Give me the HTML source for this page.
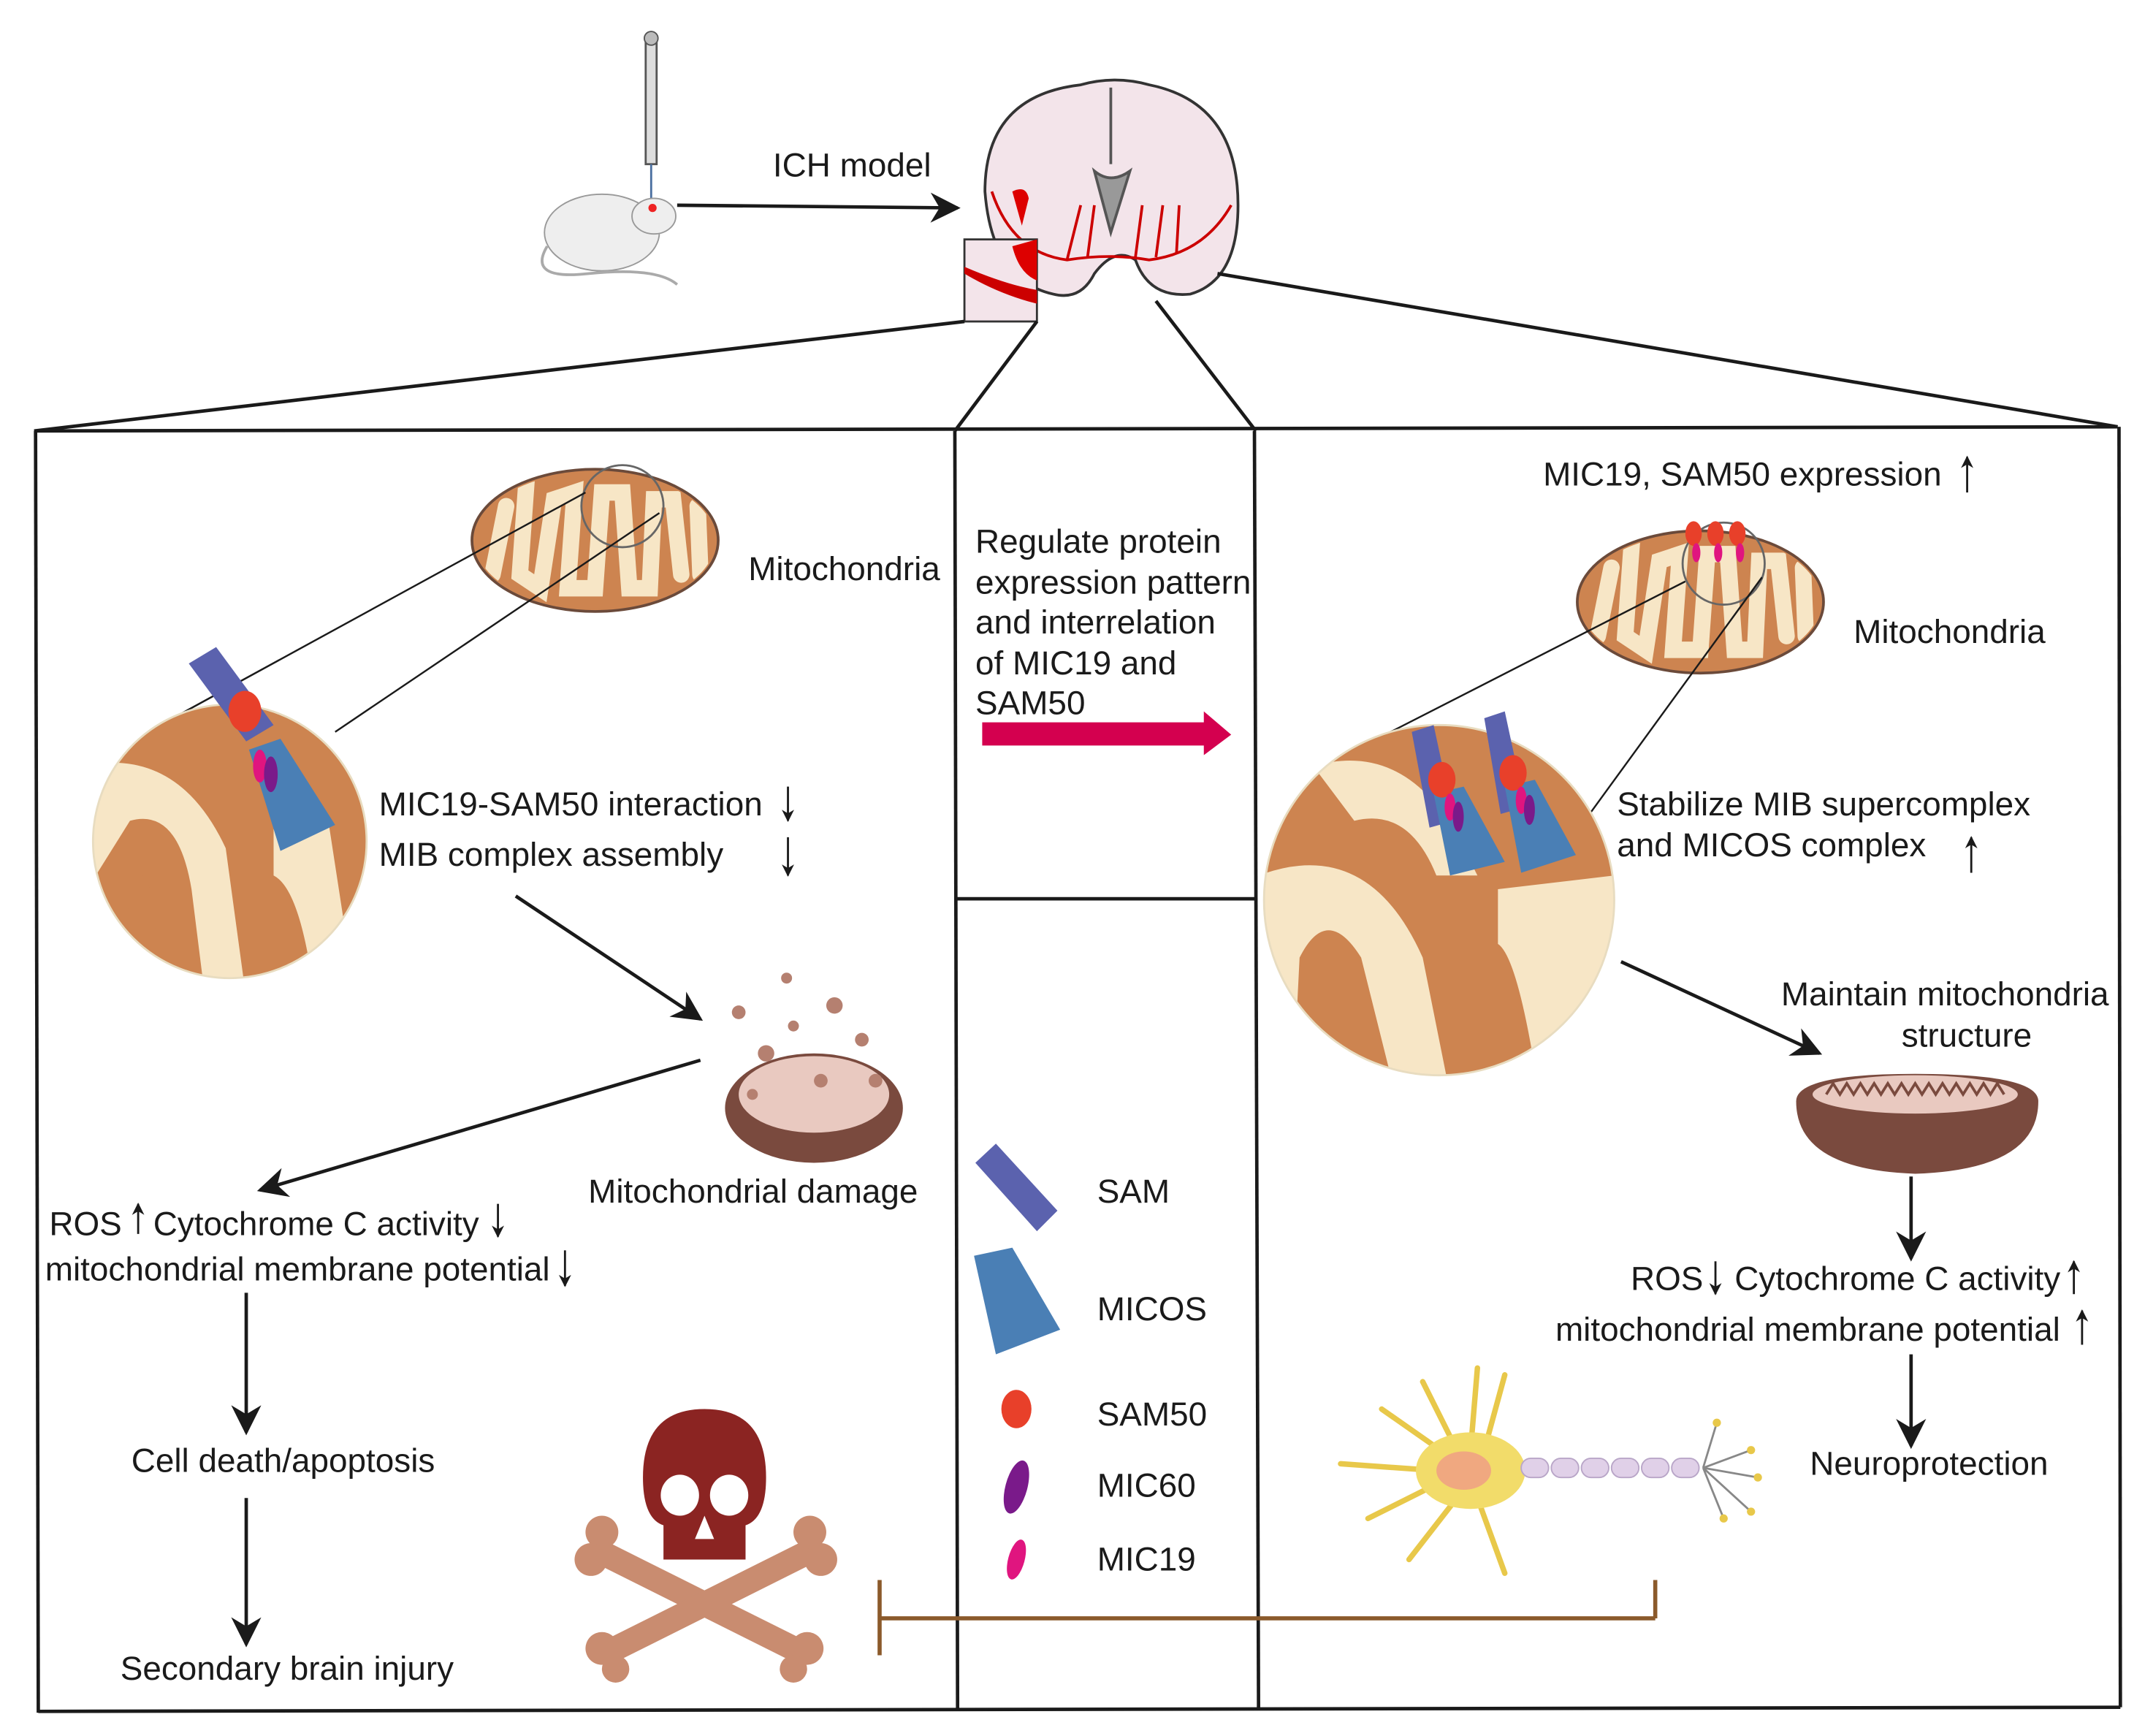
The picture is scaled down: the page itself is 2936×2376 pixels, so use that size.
<!DOCTYPE html>
<html><head><meta charset="utf-8"><style>
html,body{margin:0;padding:0;background:#fff;}
svg{display:block;}
text{font-family:"Liberation Sans",Arial,sans-serif;fill:#1a1a1a;font-size:24.5px;}
</style></head><body>
<svg width="2936" height="2376" viewBox="0 0 1568 1269" preserveAspectRatio="none" xmlns="http://www.w3.org/2000/svg">
<defs>
<marker id="ah" viewBox="0 0 10 10" refX="9" refY="5" markerWidth="9" markerHeight="9" orient="auto" markerUnits="userSpaceOnUse"><path d="M0,0 L10,5 L0,10 L3,5 z" fill="#1a1a1a"/></marker>
<marker id="ah2" viewBox="0 0 10 10" refX="9" refY="5" markerWidth="22" markerHeight="22" orient="auto" markerUnits="userSpaceOnUse"><path d="M0,0 L10,5 L0,10 L3,5 z" fill="#1a1a1a"/></marker>
<clipPath id="cl"><circle cx="168" cy="615" r="100"/></clipPath>
<clipPath id="cr"><circle cx="1052" cy="658" r="128"/></clipPath>
<clipPath id="m1"><ellipse cx="435" cy="395" rx="88" ry="50"/></clipPath>
<clipPath id="m2"><ellipse cx="1243" cy="440" rx="88" ry="50"/></clipPath>
</defs>

<rect x="472" y="30" width="8" height="90" fill="#ddd" stroke="#555" stroke-width="1.5"/>
<circle cx="476" cy="28" r="5" fill="#bbb" stroke="#555"/>
<line x1="476" y1="120" x2="476" y2="150" stroke="#4a6fa0" stroke-width="1.5"/>
<ellipse cx="440" cy="170" rx="42" ry="28" fill="#eee" stroke="#999"/>
<ellipse cx="478" cy="158" rx="16" ry="13" fill="#eee" stroke="#999"/>
<circle cx="477" cy="152" r="3" fill="#e22"/>
<path d="M400,180 Q385,205 430,200 Q480,195 495,208" fill="none" stroke="#aaa" stroke-width="2"/>
<line x1="495" y1="150" x2="700" y2="152" stroke="#1a1a1a" stroke-width="2.5" marker-end="url(#ah2)"/>
<text x="565" y="129">ICH model</text>

<path d="M720,140 Q720,70 790,62 Q815,55 840,62 Q905,75 905,150 Q905,205 870,215 Q840,218 830,190 Q815,180 800,200 Q790,220 770,215 Q725,205 720,140z" fill="#f3e4ea" stroke="#333" stroke-width="2"/>
<path d="M812,64 L812,120 M800,125 Q812,135 826,125 L812,170z" stroke="#555" fill="#999" stroke-width="2"/>
<path d="M725,140 Q740,185 780,190 Q812,185 840,190 Q880,185 900,150 M780,190 L790,150 M795,188 L800,150 M830,188 L835,150 M845,188 L850,150 M860,185 L862,150" stroke="#c00" stroke-width="2" fill="none"/>
<path d="M740,140 q10,-5 12,5 l-5,20 z" fill="#d00"/>
<rect x="705" y="175" width="53" height="60" fill="#f3e4ea" stroke="#333" stroke-width="1.5"/>
<path d="M705,200 Q730,215 758,222 L758,212 Q735,208 705,195z" fill="#c00"/>
<path d="M740,180 L758,175 L758,205 Q745,200 740,180z" fill="#d00"/>

<g stroke="#1a1a1a" stroke-width="2.5" fill="none">
<line x1="705" y1="235" x2="25" y2="315"/>
<line x1="758" y1="235" x2="698" y2="315"/>
<line x1="845" y1="220" x2="918" y2="315"/>
<line x1="890" y1="200" x2="1548" y2="312"/>
<line x1="25" y1="315" x2="1548" y2="312"/>
<line x1="26" y1="315" x2="28" y2="1252"/>
<line x1="1549" y1="312" x2="1550" y2="1248"/>
<line x1="28" y1="1251" x2="1550" y2="1248"/>
<line x1="698" y1="315" x2="700" y2="1250"/>
<line x1="917" y1="315" x2="920" y2="1250"/>
<line x1="698" y1="657" x2="918" y2="657"/>
</g>

<ellipse cx="435" cy="395" rx="90" ry="52" fill="#cd8450" stroke="#6b4a3a" stroke-width="2"/>
<g clip-path="url(#m1)" stroke="#f7e6c6" stroke-width="12" fill="none" stroke-linecap="round">
<path d="M360,420 L370,370 M385,350 L380,420 L395,430 L405,365 L420,360 L415,430 L435,430 L440,360 L455,360 L460,430 L475,430 L478,365 L492,365 L498,420 M510,370 L512,420"/>
</g>
<circle cx="455" cy="370" r="30" fill="none" stroke="#666" stroke-width="1.5"/>
<text x="547" y="424">Mitochondria</text>
<line x1="428" y1="360" x2="130" y2="523" stroke="#1a1a1a" stroke-width="1.3"/>
<line x1="482" y1="375" x2="245" y2="535" stroke="#1a1a1a" stroke-width="1.3"/>
<circle cx="168" cy="615" r="100" fill="#cd8450"/>
<g clip-path="url(#cl)">
<path d="M60,560 Q130,545 165,620 L180,730 L140,730 L120,640 Q100,610 80,640 L75,730 L55,730z" fill="#f7e6c6"/>
<path d="M95,600 Q130,590 140,650 L150,730 L120,730 L110,650 Q100,630 95,640 L90,730 L60,730 L70,640z" fill="#cd8450"/>
<path d="M200,600 L240,600 L260,730 L230,730 Q220,650 200,640z" fill="#f7e6c6"/>
</g>
<circle cx="168" cy="615" r="100" fill="none" stroke="#e8dcc0" stroke-width="1.5"/>
<path d="M138,485 L158,473 L200,530 L180,542z" fill="#5b62ae"/>
<ellipse cx="179" cy="520" rx="12" ry="15" fill="#e8402a"/>
<path d="M182,548 L205,540 L245,603 L205,622z" fill="#4a7fb5"/>
<ellipse cx="190" cy="560" rx="5" ry="12" fill="#e0157f"/>
<ellipse cx="198" cy="566" rx="5" ry="13" fill="#7a1a8a"/>
<text x="277" y="596">MIC19-SAM50 interaction</text>
<text x="277" y="633">MIB complex assembly</text>
<line x1="576" y1="575" x2="576" y2="600" stroke="#1a1a1a" stroke-width="1.5" marker-end="url(#ah)"/>
<line x1="576" y1="612" x2="576" y2="640" stroke="#1a1a1a" stroke-width="1.5" marker-end="url(#ah)"/>
<line x1="377" y1="655" x2="512" y2="745" stroke="#1a1a1a" stroke-width="2.5" marker-end="url(#ah2)"/>

<ellipse cx="595" cy="810" rx="65" ry="40" fill="#7a4a3e"/>
<ellipse cx="595" cy="800" rx="55" ry="28" fill="#e9c9c0"/>
<g fill="#b58070">
<circle cx="540" cy="740" r="5"/><circle cx="575" cy="715" r="4"/><circle cx="610" cy="735" r="6"/><circle cx="630" cy="760" r="5"/><circle cx="560" cy="770" r="6"/><circle cx="600" cy="790" r="5"/><circle cx="580" cy="750" r="4"/><circle cx="640" cy="790" r="5"/><circle cx="550" cy="800" r="4"/></g>
<text x="430" y="879">Mitochondrial damage</text>
<line x1="512" y1="775" x2="190" y2="870" stroke="#1a1a1a" stroke-width="2.5" marker-end="url(#ah2)"/>
<text x="36" y="903">ROS</text>
<line x1="101" y1="902" x2="101" y2="880" stroke="#1a1a1a" stroke-width="1.5" marker-end="url(#ah)"/>
<text x="112" y="903">Cytochrome C activity</text>
<line x1="364" y1="880" x2="364" y2="904" stroke="#1a1a1a" stroke-width="1.5" marker-end="url(#ah)"/>
<text x="33" y="936">mitochondrial membrane potential</text>
<line x1="413" y1="914" x2="413" y2="940" stroke="#1a1a1a" stroke-width="1.5" marker-end="url(#ah)"/>
<line x1="180" y1="945" x2="180" y2="1047" stroke="#1a1a1a" stroke-width="2.5" marker-end="url(#ah2)"/>
<text x="96" y="1076">Cell death/apoptosis</text>
<line x1="180" y1="1095" x2="180" y2="1202" stroke="#1a1a1a" stroke-width="2.5" marker-end="url(#ah2)"/>
<text x="88" y="1228">Secondary brain injury</text>

<g fill="#c98c70">
<path d="M440,1125 L590,1200 L580,1215 L430,1140z"/>
<path d="M590,1125 L440,1200 L450,1215 L600,1140z"/>
<circle cx="440" cy="1120" r="12"/><circle cx="432" cy="1140" r="12"/><circle cx="592" cy="1120" r="12"/><circle cx="600" cy="1140" r="12"/>
<circle cx="440" cy="1205" r="12"/><circle cx="450" cy="1220" r="10"/><circle cx="590" cy="1205" r="12"/><circle cx="580" cy="1220" r="10"/>
</g>
<path d="M515,1030 Q560,1030 560,1080 Q560,1110 545,1115 L545,1140 L485,1140 L485,1115 Q470,1110 470,1080 Q470,1030 515,1030z" fill="#8b2422"/>
<ellipse cx="497" cy="1093" rx="14" ry="15" fill="#fff"/><ellipse cx="533" cy="1093" rx="14" ry="15" fill="#fff"/>
<path d="M515,1108 L508,1125 L522,1125z" fill="#fff"/>

<text x="713" y="404">Regulate protein</text>
<text x="713" y="434">expression pattern</text>
<text x="713" y="463">and interrelation</text>
<text x="713" y="493">of MIC19 and</text>
<text x="713" y="522">SAM50</text>
<path d="M718,528 L880,528 L880,520 L900,537 L880,552 L880,545 L718,545z" fill="#d4004f"/>
<path d="M713,850 L728,836 L773,885 L758,900z" fill="#5b62ae"/>
<path d="M712,918 L740,912 L775,972 L728,990z" fill="#4a7fb5"/>
<ellipse cx="743" cy="1030" rx="11" ry="14" fill="#e8402a"/>
<ellipse cx="743" cy="1087" rx="8" ry="20" transform="rotate(15 743 1087)" fill="#7a1a8a"/>
<ellipse cx="743" cy="1140" rx="6" ry="15" transform="rotate(15 743 1140)" fill="#e0157f"/>
<text x="802" y="879">SAM</text>
<text x="802" y="965">MICOS</text>
<text x="802" y="1042">SAM50</text>
<text x="802" y="1094">MIC60</text>
<text x="802" y="1148">MIC19</text>

<text x="1128" y="355">MIC19, SAM50 expression</text>
<line x1="1438" y1="360" x2="1438" y2="334" stroke="#1a1a1a" stroke-width="1.5" marker-end="url(#ah)"/>
<ellipse cx="1243" cy="440" rx="90" ry="52" fill="#cd8450" stroke="#6b4a3a" stroke-width="2"/>
<g clip-path="url(#m2)" stroke="#f7e6c6" stroke-width="12" fill="none" stroke-linecap="round">
<path d="M1168,465 L1178,415 M1193,395 L1188,465 L1203,475 L1213,410 L1228,405 L1223,475 L1243,475 L1248,405 L1263,405 L1268,475 L1283,475 L1286,410 L1300,410 L1306,465 M1318,415 L1320,465"/>
</g>
<circle cx="1260" cy="412" r="30" fill="none" stroke="#666" stroke-width="1.5"/>
<ellipse cx="1238" cy="390" rx="6" ry="9" fill="#e8402a"/><ellipse cx="1254" cy="390" rx="6" ry="9" fill="#e8402a"/><ellipse cx="1270" cy="390" rx="6" ry="9" fill="#e8402a"/>
<ellipse cx="1240" cy="404" rx="3" ry="7" fill="#e0157f"/><ellipse cx="1256" cy="404" rx="3" ry="7" fill="#e0157f"/><ellipse cx="1272" cy="404" rx="3" ry="7" fill="#e0157f"/>
<text x="1355" y="470">Mitochondria</text>
<line x1="1232" y1="425" x2="997" y2="545" stroke="#1a1a1a" stroke-width="1.3"/>
<line x1="1288" y1="422" x2="1162" y2="595" stroke="#1a1a1a" stroke-width="1.3"/>
<circle cx="1052" cy="658" r="128" fill="#cd8450"/>
<g clip-path="url(#cr)">
<path d="M920,640 Q1000,610 1040,700 L1060,800 L1020,800 L995,700 Q970,660 950,700 L945,800 L920,800z" fill="#f7e6c6"/>
<path d="M1095,650 L1180,640 L1180,800 L1125,800 Q1110,700 1095,690z" fill="#f7e6c6"/>
<path d="M960,560 Q1030,540 1070,620 L1080,640 L1050,640 Q1030,590 990,600z" fill="#f7e6c6"/>
</g>
<circle cx="1052" cy="658" r="128" fill="none" stroke="#e8dcc0" stroke-width="1.5"/>
<path d="M1032,535 L1048,530 L1063,600 L1045,605z" fill="#5b62ae"/>
<path d="M1085,525 L1100,520 L1115,590 L1097,595z" fill="#5b62ae"/>
<path d="M1048,580 L1070,575 L1100,630 L1060,640z" fill="#4a7fb5"/>
<path d="M1100,575 L1122,570 L1152,625 L1112,638z" fill="#4a7fb5"/>
<ellipse cx="1054" cy="570" rx="10" ry="13" fill="#e8402a"/>
<ellipse cx="1106" cy="565" rx="10" ry="13" fill="#e8402a"/>
<ellipse cx="1060" cy="590" rx="4" ry="10" fill="#e0157f"/><ellipse cx="1066" cy="597" rx="4" ry="11" fill="#7a1a8a"/>
<ellipse cx="1112" cy="585" rx="4" ry="10" fill="#e0157f"/><ellipse cx="1118" cy="592" rx="4" ry="11" fill="#7a1a8a"/>
<text x="1182" y="596">Stabilize MIB supercomplex</text>
<text x="1182" y="626">and MICOS  complex</text>
<line x1="1441" y1="638" x2="1441" y2="612" stroke="#1a1a1a" stroke-width="1.5" marker-end="url(#ah)"/>
<line x1="1185" y1="703" x2="1330" y2="770" stroke="#1a1a1a" stroke-width="2.5" marker-end="url(#ah2)"/>
<text x="1302" y="735">Maintain mitochondria</text>
<text x="1390" y="765">structure</text>
<path d="M1313,805 Q1313,785 1400,785 Q1490,785 1490,805 Q1490,855 1400,858 Q1313,855 1313,805z" fill="#7a4a3e"/>
<ellipse cx="1400" cy="800" rx="75" ry="14" fill="#e9c9c0"/>
<path d="M1335,800 l5,-8 l5,8 l5,-8 l5,8 l5,-8 l5,8 l5,-8 l5,8 l5,-8 l5,8 l5,-8 l5,8 l5,-8 l5,8 l5,-8 l5,8 l5,-8 l5,8 l5,-8 l5,8 l5,-8 l5,8 l5,-8 l5,8 l5,-8 l5,8" stroke="#7a4a3e" stroke-width="2" fill="none"/>
<line x1="1397" y1="860" x2="1397" y2="920" stroke="#1a1a1a" stroke-width="2.5" marker-end="url(#ah2)"/>
<text x="1192" y="943">ROS</text>
<line x1="1254" y1="922" x2="1254" y2="946" stroke="#1a1a1a" stroke-width="1.5" marker-end="url(#ah)"/>
<text x="1268" y="943">Cytochrome C activity</text>
<line x1="1516" y1="946" x2="1516" y2="922" stroke="#1a1a1a" stroke-width="1.5" marker-end="url(#ah)"/>
<text x="1137" y="980">mitochondrial membrane potential</text>
<line x1="1522" y1="983" x2="1522" y2="958" stroke="#1a1a1a" stroke-width="1.5" marker-end="url(#ah)"/>
<line x1="1397" y1="990" x2="1397" y2="1057" stroke="#1a1a1a" stroke-width="2.5" marker-end="url(#ah2)"/>
<text x="1323" y="1078">Neuroprotection</text>

<g stroke="#e8c84a" stroke-width="4" fill="none" stroke-linecap="round">
<path d="M1070,1070 L1040,1010 M1060,1065 L1010,1030 M1050,1075 L980,1070 M1050,1085 L1000,1110 M1065,1095 L1030,1140 M1080,1095 L1100,1150 M1085,1060 L1100,1005 M1075,1060 L1080,1000"/>
</g>
<ellipse cx="1075" cy="1075" rx="40" ry="28" fill="#f2dc6a"/>
<ellipse cx="1070" cy="1075" rx="20" ry="14" fill="#f0a880"/>
<g fill="#e0d0e8" stroke="#b9a6c8">
<rect x="1112" y="1066" width="20" height="14" rx="7"/><rect x="1134" y="1066" width="20" height="14" rx="7"/><rect x="1156" y="1066" width="20" height="14" rx="7"/><rect x="1178" y="1066" width="20" height="14" rx="7"/><rect x="1200" y="1066" width="20" height="14" rx="7"/><rect x="1222" y="1066" width="20" height="14" rx="7"/>
</g>
<g stroke="#888" stroke-width="1.5" fill="none"><path d="M1245,1073 L1255,1040 M1245,1073 L1280,1060 M1245,1073 L1285,1080 M1245,1073 L1280,1105 M1245,1073 L1260,1110"/></g>
<g fill="#e8c84a"><circle cx="1255" cy="1040" r="3"/><circle cx="1280" cy="1060" r="3"/><circle cx="1285" cy="1080" r="3"/><circle cx="1280" cy="1105" r="3"/><circle cx="1260" cy="1110" r="3"/></g>

<g stroke="#8b5a2b" stroke-width="3" fill="none">
<line x1="643" y1="1183" x2="1210" y2="1183"/>
<line x1="643" y1="1155" x2="643" y2="1210"/>
<line x1="1210" y1="1155" x2="1210" y2="1183"/>
</g>
</svg>
</body></html>
